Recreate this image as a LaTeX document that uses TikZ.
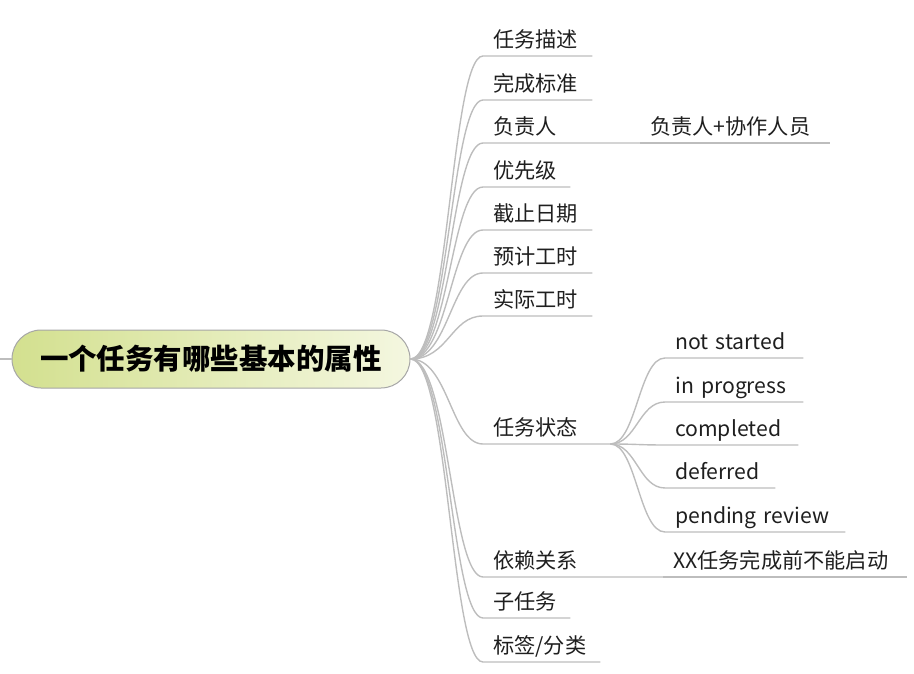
\documentclass[tikz,border=0pt]{standalone}
\usepackage{fontspec}
\setmainfont{Noto Sans CJK SC}
\usetikzlibrary{positioning}

\definecolor{rootleft}{HTML}{D3E08F}
\definecolor{rootright}{HTML}{F4F7E0}
\definecolor{branchgray}{HTML}{BDBDBD}

\begin{document}
\begin{tikzpicture}[x=1pt, y=-1pt,
  root/.style={rounded corners=29pt, draw=black!35, line width=1pt, left color=rootleft, right color=rootright,
    minimum width=398pt, minimum height=58pt, inner sep=0pt, font=\fontsize{28.5}{31}\selectfont\bfseries},
  leaf/.style={anchor=south west, inner xsep=10pt, inner ysep=3pt, text height=16pt, text depth=5pt,
    align=left, font=\fontsize{21.2}{24}\selectfont, text=black!88},
  branch/.style={draw=branchgray, line width=1.4pt}
]
\useasboundingbox (0,0) rectangle (914,674);
% central topic
\node[root] (root) at (211,359) {一个任务有哪些基本的属性};
\coordinate (in) at (0,359);
\draw[branch] (in) -- (root.west);
% first level
\node[leaf, text width=89pt]  (desc)  at (483,56)  {任务描述};
\node[leaf, text width=89pt]  (crit)  at (483,100) {完成标准};
\node[leaf, text width=137pt] (owner) at (483,143) {负责人};
\node[leaf, text width=67pt]  (prio)  at (483,187) {优先级};
\node[leaf, text width=89pt]  (due)   at (483,230) {截止日期};
\node[leaf, text width=89pt]  (est)   at (483,273) {预计工时};
\node[leaf, text width=89pt]  (act)   at (483,316) {实际工时};
\node[leaf, text width=107pt] (state) at (483,444) {任务状态};
\node[leaf, text width=160pt] (dep)   at (483,577) {依赖关系};
\node[leaf, text width=67pt]  (sub)   at (483,618) {子任务};
\node[leaf, text width=97pt]  (tag)   at (483,662) {标签/分类};
\foreach \n in {desc,crit,owner,prio,due,est,act,state,dep,sub,tag}
  \draw[branch] (root.east) .. controls +(38,0) and +(-32,0) .. (\n.south west) -- (\n.south east);
% second level
\node[leaf, text width=170pt] (owner2) at (640,143) {负责人+协作人员};
\draw[branch] (owner.south east) -- (owner2.south east);
\node[leaf, text width=224pt] (dep2) at (663,577) {XX任务完成前不能启动};
\draw[branch] (dep.south east) -- (dep2.south east);
\node[leaf, text width=118pt] (s1) at (665,358) {not started};
\node[leaf, text width=118pt] (s2) at (665,402) {in progress};
\node[leaf, text width=113pt] (s3) at (665,445) {completed};
\node[leaf, text width=90pt]  (s4) at (665,488) {deferred};
\node[leaf, text width=160pt] (s5) at (665,532) {pending review};
\foreach \n in {s1,s2,s3,s4,s5}
  \draw[branch] (state.south east) .. controls +(26,0) and +(-26,0) .. (\n.south west) -- (\n.south east);
\end{tikzpicture}
\end{document}
